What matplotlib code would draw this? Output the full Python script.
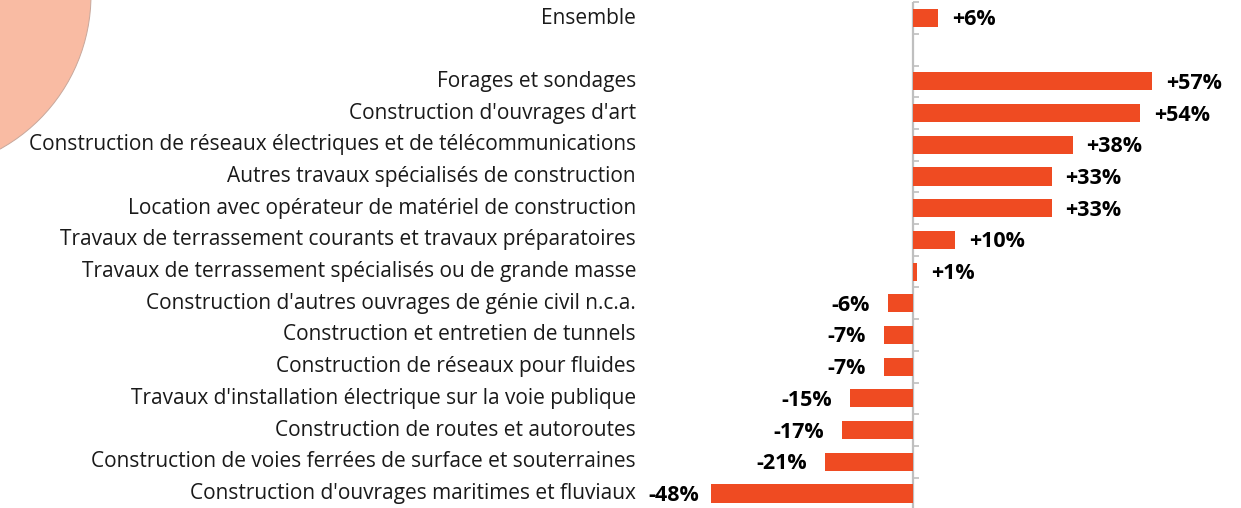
import matplotlib
matplotlib.use("Agg")
import matplotlib.pyplot as plt
from matplotlib.patches import Circle
from matplotlib.transforms import blended_transform_factory

plt.rcParams["font.family"] = ["Open Sans", "DejaVu Sans"]

# Evolution by activity (in %)
total_label = "Ensemble"
total_value = 6

categories = [
    "Forages et sondages",
    "Construction d'ouvrages d'art",
    "Construction de réseaux électriques et de télécommunications",
    "Autres travaux spécialisés de construction",
    "Location avec opérateur de matériel de construction",
    "Travaux de terrassement courants et travaux préparatoires",
    "Travaux de terrassement spécialisés ou de grande masse",
    "Construction d'autres ouvrages de génie civil n.c.a.",
    "Construction et entretien de tunnels",
    "Construction de réseaux pour fluides",
    "Travaux d'installation électrique sur la voie publique",
    "Construction de routes et autoroutes",
    "Construction de voies ferrées de surface et souterraines",
    "Construction d'ouvrages maritimes et fluviaux",
]
values = [57, 54, 38, 33, 33, 10, 1, -6, -7, -7, -15, -17, -21, -48]

BAR = "#EF4B22"
W, H, DPI = 1241, 508, 100

fig = plt.figure(figsize=(W / DPI, H / DPI), dpi=DPI)

# decorative disc in the top-left corner
deco = fig.add_axes([0, 0, 1, 1])
deco.set_xlim(0, W)
deco.set_ylim(H, 0)
deco.axis("off")
deco.add_patch(Circle((-85, -5), 176, facecolor="#F9BBA3",
                      edgecolor="#C8A89C", linewidth=0.7))

# main bar axes: zero line at x=913 px, 4.2 px per percentage point
px_per_pct = 4.2
x0_px = 913
ax_left_px, ax_right_px = 690, W
xmin = -(x0_px - ax_left_px) / px_per_pct
xmax = (ax_right_px - x0_px) / px_per_pct
slot = 31.7
top_px = 18 - 0.5 * slot
bot_px = top_px + 16 * slot
ax = fig.add_axes([ax_left_px / W, 1 - bot_px / H,
                   (ax_right_px - ax_left_px) / W, (bot_px - top_px) / H])
ax.patch.set_alpha(0)
ax.set_xlim(xmin, xmax)
ax.set_ylim(15.5, -0.5)
for s in ax.spines.values():
    s.set_visible(False)
ax.set_xticks([])
ax.set_yticks([])

positions = [0] + list(range(2, 2 + len(categories)))
labels = [total_label] + categories
vals = [total_value] + values

ax.barh(positions, vals, height=0.57, color=BAR, zorder=3)

# vertical zero axis with small ticks between categories
ax.axvline(0, color="#BFBFBF", linewidth=1.6, zorder=2)
for b in [i - 0.5 for i in range(17)]:
    ax.plot([0, 1.4], [b, b], color="#BFBFBF", linewidth=1.2,
            solid_capstyle="butt", zorder=2, clip_on=False)

lab_tr = blended_transform_factory(fig.transFigure, ax.transData)
for p, lab, v in zip(positions, labels, vals):
    ax.text(636 / W, p, lab, transform=lab_tr, ha="right", va="center",
            fontsize=15, color="#1a1a1a")
    txt = f"+{v}%" if v > 0 else f"{v}%"
    if v >= 0:
        ax.text(v + 14 / px_per_pct, p + 0.06, txt, ha="left", va="center",
                fontsize=15.5, fontweight="bold", color="black")
    else:
        gap = 12 if v < -40 else 18
        ax.text(v - gap / px_per_pct, p + 0.06, txt, ha="right", va="center",
                fontsize=15.5, fontweight="bold", color="black")

fig.savefig("out.png", dpi=DPI)
